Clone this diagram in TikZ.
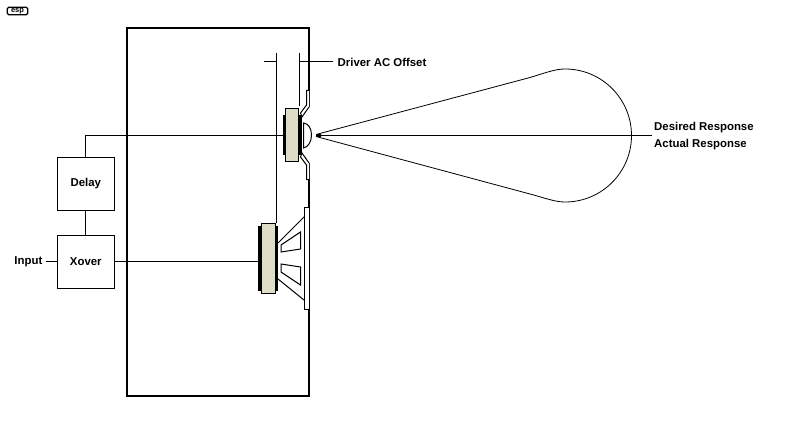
\documentclass[tikz,border=0pt]{standalone}
\usepackage{fontspec}
\setmainfont{Liberation Sans}
\definecolor{magnet}{RGB}{222,222,200}
\tikzset{
  lbl/.style={font=\bfseries\fontsize{11.4}{13}\selectfont,inner sep=0pt,text=black},
  blockbox/.style={draw,line width=1pt,minimum width=57pt,minimum height=53pt,inner sep=0pt,lbl},
  wire/.style={line width=1pt},
  thin outline/.style={line width=1pt,draw=black,fill=white},
  coil/.style={fill=black,draw=none},
  core/.style={fill=magnet,draw=black,line width=1pt},
}
\begin{document}
\begin{tikzpicture}[x=1pt,y=-1pt,line join=miter]
\useasboundingbox (0,0) rectangle (800,425);
% logo
\node[draw,line width=1.2pt,rounded corners=1.5pt,minimum width=20.5pt,minimum height=7.5pt,inner sep=0pt,font=\fontsize{7.5}{7}\selectfont] (logo) at (17.5,11) {};
\node[inner sep=0pt,font=\bfseries\fontsize{7.5}{7}\selectfont,anchor=base] at (17.5,12.8) {esp};
% cabinet
\node[draw,line width=2pt,minimum width=182pt,minimum height=368pt,inner sep=0pt] (cabinet) at (218,212) {};
% blocks
\node[blockbox] (delay) at (85.8,183.5) {\raisebox{-1pt}{Delay}};
\node[blockbox] (xover) at (85.8,261.5) {\raisebox{-1pt}{Xover}};
\node[lbl,anchor=east] (input) at (42.5,262) {Input};
\node[lbl,anchor=west] (desired) at (654,128) {Desired Response};
\node[lbl,anchor=west] (actual) at (654,145) {Actual Response};
\node[lbl,anchor=west] (offset) at (337.5,62) {Driver AC Offset};
% coordinates
\coordinate (twIn) at (283,135.5);
\coordinate (wfIn) at (258,261.5);
\coordinate (corner) at (85.5,135.5);
\coordinate (tip) at (316,134.5);
\coordinate (respEnd) at (652,135.5);
\coordinate (offL) at (264,61.5);
\coordinate (offA) at (276.5,61.5);
\coordinate (offB) at (299.5,61.5);
% wires
\draw[wire] (delay.north -| corner) -- (corner) -- (twIn);
\draw[wire] (delay.south -| corner) -- (xover.north -| corner);
\draw[wire] (45.5,261.5) -- (xover.west);
\draw[wire] (xover.east) -- (wfIn);
% offset lines
\draw[wire] (276.5,53) -- (276.5,223);
\draw[wire] (299.5,53) -- (299.5,106);
\draw[wire] (offL) -- (offA);
\draw[wire] (offB) -- (333,61.5);
% tweeter
\fill[white] (304,107) rectangle (311,163);
\fill[coil] (283,115) rectangle (286,155);
\fill[coil] (298,115) rectangle (301.5,155);
\draw[core] (285.5,108.5) rectangle (298.5,161.5);
\draw[thin outline] (309,90.5) -- (306.5,90.5) -- (306.5,105) -- (300.5,113) -- (302,117) -- (309,107);
\draw[thin outline] (309,179.5) -- (306.5,179.5) -- (306.5,165) -- (300.5,157) -- (302,153) -- (309,163);
\draw[thin outline] (303.5,123) .. controls (308,123.5) and (311.5,128) .. (311.5,135) .. controls (311.5,142) and (308,147) .. (303.5,148) -- cycle;
% woofer
\fill[coil] (258,226) rectangle (262,291);
\fill[coil] (274,226) rectangle (278,291);
\draw[core] (261.5,223.5) rectangle (275,293.5);
\draw[thin outline] (304.5,207.5) rectangle (309,309.5);
\draw[wire] (278,243) -- (304,217);
\draw[wire] (278,279) -- (304,300);
\draw[thin outline] (300.5,232) -- (300.5,249) -- (281,252) -- (281,245) -- cycle;
\draw[thin outline] (281,264) -- (300.5,267) -- (300.5,285) -- (281,272) -- cycle;
% response lobe
\draw[line width=.8pt] (tip) -- (530,77.5) .. controls (545,73) and (555,69) .. (565,69)
  .. controls (602,69) and (631.5,99) .. (631.5,135.5)
  .. controls (631.5,172) and (602,202) .. (565,202)
  .. controls (555,202) and (545,198) .. (530,194) -- (316,136.5);
\fill (316.5,134) rectangle (320.5,137);
\draw[wire] (tip |- respEnd) -- (respEnd);
\end{tikzpicture}
\end{document}
